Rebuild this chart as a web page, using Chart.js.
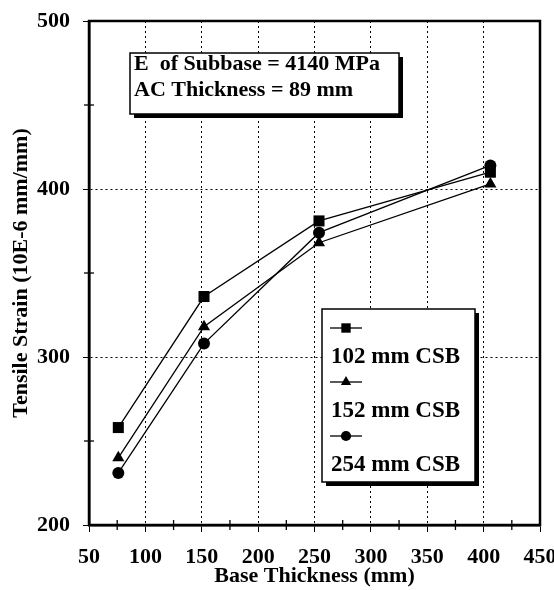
<!DOCTYPE html>
<html>
<head>
<meta charset="utf-8">
<script src="https://cdn.jsdelivr.net/npm/chart.js@4"></script>
<style>
  html, body { margin: 0; padding: 0; background: #fff; }
  #wrap { width: 554px; height: 590px; }
</style>
</head>
<body>
<div id="wrap"><canvas id="strainChart" width="554" height="590"></canvas></div>
<script>
// base thickness (mm)
var baseThickness = [76, 152, 254, 406];

// tensile strain for each cement-stabilized subbase thickness
var strain102 = [258, 336, 381, 410];
var strain152 = [240, 318, 368, 403];
var strain254 = [231, 308, 374, 414];

var seriesLabels = ['102 mm CSB', '152 mm CSB', '254 mm CSB'];
var seriesMarkers = ['rect', 'triangle', 'circle'];

var xTicks = [50, 100, 150, 200, 250, 300, 350, 400, 450];
var yTicks = [200, 300, 400, 500];

var noteLines = ['E  of Subbase = 4140 MPa', 'AC Thickness = 89 mm'];

var FONT = '"Liberation Serif", "Times New Roman", serif';

function toPoints(values) {
    return baseThickness.map(function(x, i) {
        return { x: x, y: values[i] };
    });
}

function markerRadius(marker) {
    if (marker === 'rect') return 7.8;
    if (marker === 'triangle') return 7;
    return 6;
}

function makeDataset(label, values, marker) {
    return {
        label: label,
        data: toPoints(values),
        showLine: true,
        borderColor: '#000',
        backgroundColor: '#000',
        borderWidth: 1.3,
        pointStyle: marker,
        pointRadius: markerRadius(marker),
        pointBorderWidth: 0,
        pointHoverRadius: markerRadius(marker)
    };
}

// draws the boxed note, the boxed legend and the minor ticks
var boxesPlugin = {
    id: 'boxes',
    afterDraw: function(chart) {
        var ctx = chart.ctx;
        var area = chart.chartArea;
        var xs = chart.scales.x;
        var ys = chart.scales.y;

        // minor ticks
        ctx.save();
        ctx.strokeStyle = '#000';
        ctx.lineWidth = 1.3;
        for (var v = 75; v < 450; v += 50) {
            var px = xs.getPixelForValue(v);
            ctx.beginPath();
            ctx.moveTo(px, area.bottom - 5);
            ctx.lineTo(px, area.bottom + 5);
            ctx.stroke();
        }
        for (var w = 250; w < 500; w += 100) {
            var py = ys.getPixelForValue(w);
            ctx.beginPath();
            ctx.moveTo(area.left - 5, py);
            ctx.lineTo(area.left + 5, py);
            ctx.stroke();
        }
        ctx.restore();

        function shadowBox(l, t, r, b) {
            ctx.fillStyle = '#000';
            ctx.fillRect(l + 4, t + 4, r - l, b - t);
            ctx.fillStyle = '#fff';
            ctx.fillRect(l, t, r - l, b - t);
            ctx.strokeStyle = '#000';
            ctx.lineWidth = 1.5;
            ctx.strokeRect(l, t, r - l, b - t);
        }

        // note box
        ctx.save();
        var nl = area.left + 41, nt = area.top + 32, nr = area.left + 310, nb = area.top + 93;
        shadowBox(nl, nt, nr, nb);
        ctx.fillStyle = '#000';
        ctx.font = 'bold 22px ' + FONT;
        ctx.textBaseline = 'middle';
        ctx.textAlign = 'left';
        ctx.fillText(noteLines[0], nl + 4, nt + 11);
        ctx.fillText(noteLines[1], nl + 4, nt + 37);
        ctx.restore();

        // legend box
        ctx.save();
        var ll = area.left + 233, lt = area.top + 288, lr = area.left + 386, lb = area.top + 461;
        shadowBox(ll, lt, lr, lb);
        chart.data.datasets.forEach(function(ds, i) {
            var my = lt + 19 + i * 54;
            ctx.strokeStyle = '#000';
            ctx.lineWidth = 1.3;
            ctx.beginPath();
            ctx.moveTo(ll + 8, my);
            ctx.lineTo(ll + 40, my);
            ctx.stroke();
            ctx.fillStyle = '#000';
            Chart.helpers.drawPoint(ctx, {
                pointStyle: ds.pointStyle,
                radius: ds.pointRadius * 0.85,
                borderWidth: 0
            }, ll + 24, my);
            ctx.font = 'bold 23px ' + FONT;
            ctx.textBaseline = 'middle';
            ctx.textAlign = 'left';
            ctx.fillText(ds.label, ll + 9, my + 29);
        });
        ctx.restore();

        // frame on top
        ctx.save();
        ctx.strokeStyle = '#000';
        ctx.lineWidth = 2.5;
        ctx.strokeRect(area.left, area.top, area.right - area.left, area.bottom - area.top);
        ctx.restore();
    }
};

var ctx = document.getElementById('strainChart').getContext('2d');
var chart = new Chart(ctx, {
    type: 'scatter',
    data: {
        datasets: [
            makeDataset(seriesLabels[0], strain102, seriesMarkers[0]),
            makeDataset(seriesLabels[1], strain152, seriesMarkers[1]),
            makeDataset(seriesLabels[2], strain254, seriesMarkers[2])
        ]
    },
    options: {
        responsive: false,
        animation: false,
        layout: { padding: { top: 21, right: 14, left: 0, bottom: 0 } },
        plugins: {
            legend: { display: false },
            tooltip: { enabled: false }
        },
        scales: {
            x: {
                type: 'linear',
                min: 50,
                max: 450,
                afterBuildTicks: function(axis) {
                    axis.ticks = xTicks.map(function(v) { return { value: v }; });
                },
                afterFit: function(axis) {
                    axis.height = 65;
                    axis.paddingLeft = 0;
                    axis.paddingRight = 0;
                },
                ticks: {
                    color: '#000',
                    padding: 12,
                    maxRotation: 0,
                    autoSkip: false,
                    font: { family: FONT, size: 22, weight: 'bold' }
                },
                grid: {
                    color: '#000',
                    lineWidth: 1,
                    tickColor: '#000',
                    tickLength: 7
                },
                border: { display: true, color: '#000', width: 2.5, dash: [2, 3] },
                title: {
                    display: true,
                    text: 'Base Thickness (mm)',
                    color: '#000',
                    padding: { top: 0, bottom: 0 },
                    font: { family: FONT, size: 22, weight: 'bold' }
                }
            },
            y: {
                type: 'linear',
                min: 200,
                max: 500,
                afterBuildTicks: function(axis) {
                    axis.ticks = yTicks.map(function(v) { return { value: v }; });
                },
                afterFit: function(axis) {
                    axis.width = 89;
                    axis.paddingTop = 0;
                    axis.paddingBottom = 0;
                },
                ticks: {
                    color: '#000',
                    padding: 13,
                    font: { family: FONT, size: 22, weight: 'bold' }
                },
                grid: {
                    color: '#000',
                    lineWidth: 1,
                    tickColor: '#000',
                    tickLength: 6
                },
                border: { display: true, color: '#000', width: 2.5, dash: [2, 3] },
                title: {
                    display: true,
                    text: 'Tensile Strain (10E-6 mm/mm)',
                    color: '#000',
                    padding: { top: 8, bottom: 0 },
                    font: { family: FONT, size: 22, weight: 'bold' }
                }
            }
        }
    },
    plugins: [boxesPlugin]
});
</script>
</body>
</html>
